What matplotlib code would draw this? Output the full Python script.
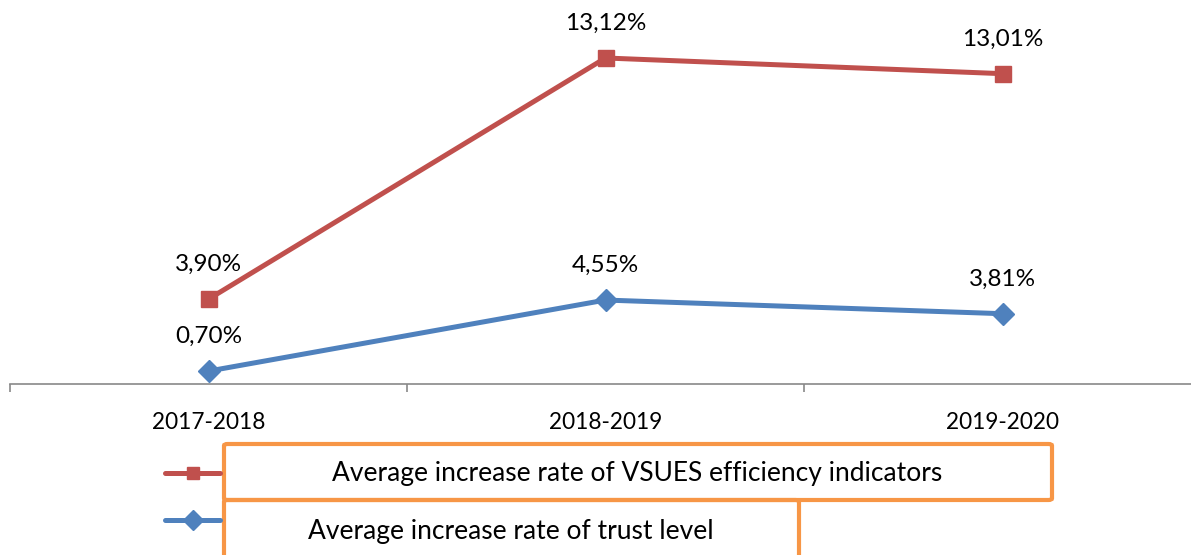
import numpy as np
import matplotlib
matplotlib.use("Agg")
import matplotlib.pyplot as plt
from matplotlib.patches import FancyBboxPatch
from matplotlib.lines import Line2D

plt.rcParams['font.family'] = ['Lato', 'DejaVu Sans']

years = ["2017-2018", "2018-2019", "2019-2020"]
trust = [0.70, 4.55, 3.81]
efficiency = [3.90, 13.12, 13.01]
trust_labels = ["0,70%", "4,55%", "3,81%"]
eff_labels = ["3,90%", "13,12%", "13,01%"]
series_names = ["Average increase rate of VSUES efficiency indicators",
                "Average increase rate of trust level"]

red = "#C0504D"
blue = "#4F81BD"
orange = "#F79646"

W, H = 1191, 555
fig = plt.figure(figsize=(W / 100, H / 100), dpi=100)
ax = fig.add_axes([10 / W, (H - 384) / H, 1191 / W, (384 - 15) / H])

x = np.arange(len(years))
# stacked line chart: red series sits on top of blue one
stacked = np.array(trust) + np.array(efficiency)

ax.plot(x, trust, color=blue, lw=3.6, marker='D', ms=11, zorder=3)
ax.plot(x, stacked, color=red, lw=3.6, marker='s', ms=11.5, zorder=3)

for xi, v, lab in zip(x, trust, trust_labels):
    ax.annotate(lab, (xi, v), xytext=(0, 25), textcoords='offset points',
                ha='center', va='center', fontsize=17.5, color='black')
for xi, v, lab in zip(x, stacked, eff_labels):
    ax.annotate(lab, (xi, v), xytext=(0, 25), textcoords='offset points',
                ha='center', va='center', fontsize=17.5, color='black')

ax.set_xlim(-0.5, 2.5)
ax.set_ylim(0, 20)
for s in ['top', 'right', 'left']:
    ax.spines[s].set_visible(False)
ax.spines['bottom'].set_color('#898989')
ax.spines['bottom'].set_linewidth(1.2)
ax.set_yticks([])
ax.set_xticks(x)
ax.set_xticklabels(years, fontsize=16.3)
ax.tick_params(axis='x', which='major', length=0, pad=20)
ax.set_xticks([-0.5, 0.5, 1.5, 2.5], minor=True)
ax.tick_params(axis='x', which='minor', length=6, width=1.2, color='#898989')
ax.patch.set_alpha(0)

# legend drawn as two orange boxes
def px(xp, yp):
    return xp / W, 1 - yp / H

boxes = [(224, 444, 1052, 500), (224, 500, 799, 562)]
ys = [473, 520]
tx = [637, 511]
ty = [474, 531]
cols = [red, blue]
mk = ['s', 'D']
for (x0, y0, x1, y1), yy, xt, yt, c, m, name in zip(boxes, ys, tx, ty, cols, mk, series_names):
    fx0, fy1 = px(x0, y1)
    fx1, fy0 = px(x1, y0)
    fig.add_artist(FancyBboxPatch((fx0, fy1), fx1 - fx0, fy0 - fy1,
                                  boxstyle="round,pad=0,rounding_size=0.003",
                                  transform=fig.transFigure, fill=False,
                                  edgecolor=orange, lw=3))
    lx0, ly = px(165, yy)
    lx1, _ = px(220, yy)
    fig.add_artist(Line2D([lx0, lx1], [ly, ly], color=c, lw=3.6,
                          solid_capstyle='round', transform=fig.transFigure))
    fig.add_artist(Line2D([(lx0 + lx1) / 2], [ly], color=c, marker=m,
                          ms=9 if m == 's' else 10, transform=fig.transFigure))
    fxt, fyt = px(xt, yt)
    fig.text(fxt, fyt, name, ha='center', va='center', fontsize=19)

fig.savefig("out.png", dpi=100)
